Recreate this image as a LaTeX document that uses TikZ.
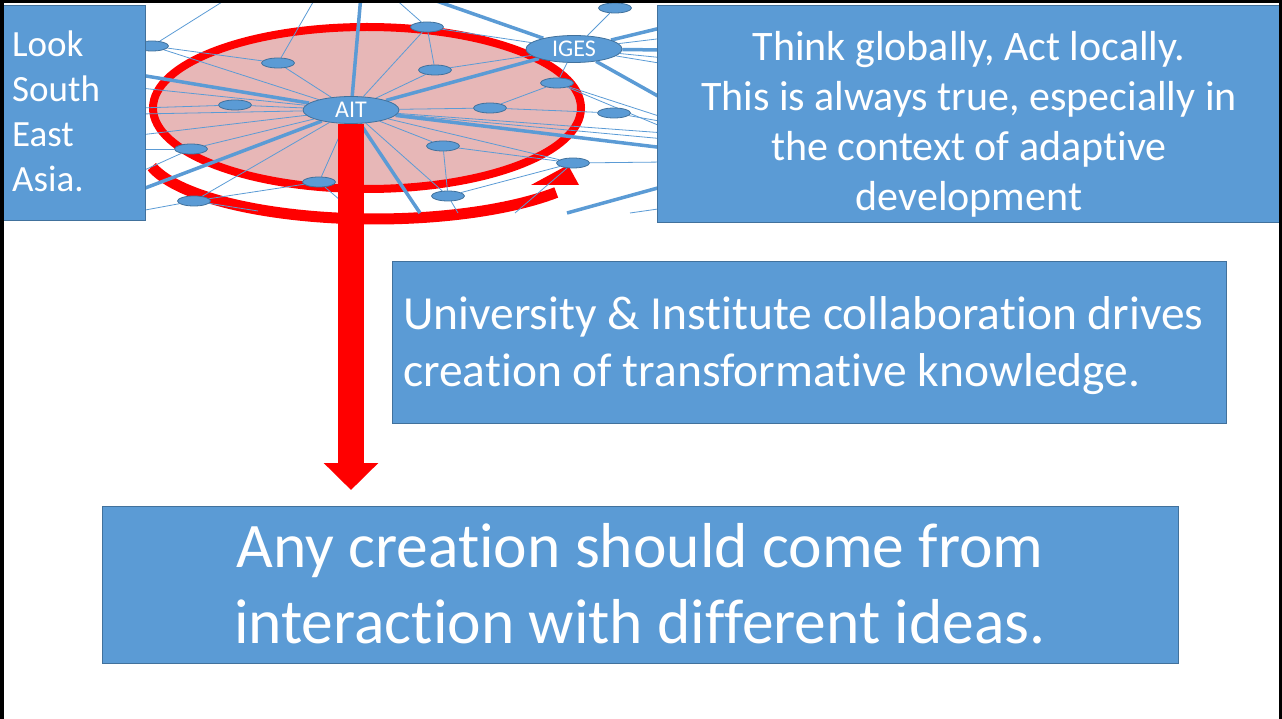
\documentclass[tikz,border=0pt]{standalone}
\usepackage{fontspec}
\setmainfont{Carlito}[Ligatures=NoCommon]
\usetikzlibrary{shapes.geometric,arrows.meta}
\definecolor{boxblue}{HTML}{5B9BD5}
\definecolor{boxedge}{HTML}{41719C}
\definecolor{pinkfill}{RGB}{231,183,183}
\definecolor{netred}{RGB}{255,0,0}
\pgfdeclarelayer{bg}
\pgfdeclarelayer{edges}
\pgfsetlayers{bg,edges,main}
\begin{document}
\begin{tikzpicture}[x=1pt,y=-1pt,
  box/.style={draw=boxedge, line width=1.3, fill=boxblue, rectangle, inner sep=0, anchor=north west},
  boxtext/.style={text=white, inner sep=0, anchor=base},
  small/.style={ellipse, fill=boxblue, draw=boxedge, line width=0.8, minimum width=33, minimum height=10, inner sep=0},
  big/.style={ellipse, fill=boxblue, draw=boxedge, line width=0.8, minimum width=96, minimum height=27, inner sep=0, text=white, font=\fontsize{24}{28}\selectfont},
  th/.style={draw=boxblue, line width=3.5},
  tn/.style={draw=boxblue, line width=0.8},
]
\useasboundingbox (0,0) rectangle (1282,719);

% background: pink disc and red circulation arrow
\begin{pgfonlayer}{bg}
\fill[pinkfill] (367,108) ellipse [x radius=214, y radius=81];
\draw[netred, line width=8] (367,108) ellipse [x radius=214, y radius=81];
\draw[netred, line width=11] plot[domain=166:38, samples=60] ({375+230*cos(\x)},{150+69*sin(\x)});
\fill[netred] (531,185) -- (568,165) -- (579,185) -- cycle;
\end{pgfonlayer}

% network nodes
\node[small] (n1) at (615,8) {};
\node[small] (n2) at (427,27) {};
\node[small] (n3) at (152,46) {};
\node[small] (n4) at (278,63) {};
\node[small] (n5) at (435,70) {};
\node[big] (IGES) at (574,49) {IGES};
\node[big] (AIT) at (351,110) {AIT};
\node[small] (n8) at (557,83) {};
\node[small] (n9) at (235,105) {};
\node[small] (n10) at (490,108) {};
\node[small] (n11) at (614,113) {};
\node[small] (n12) at (191,149) {};
\node[small] (n13) at (443,146) {};
\node[small] (n14) at (573,163) {};
\node[small] (n15) at (319,182) {};
\node[small] (n16) at (194,201) {};
\node[small] (n17) at (448,196) {};

% free ends of network lines
\coordinate (et1) at (361,-5);
\coordinate (et2) at (425,-3);
\coordinate (et3) at (230,-3);
\coordinate (et4) at (316,-3);
\coordinate (et5) at (393,-3);
\coordinate (el1) at (140,75);
\coordinate (el2) at (140,190);
\coordinate (el3) at (140,108);
\coordinate (el4) at (140,88);
\coordinate (el5) at (140,114);
\coordinate (el6) at (140,135);
\coordinate (el7) at (140,149);
\coordinate (el8) at (140,172);
\coordinate (el9) at (140,211);
\coordinate (er1) at (665,148);
\coordinate (er2) at (665,27);
\coordinate (er3) at (665,50);
\coordinate (er4) at (665,100);
\coordinate (er5) at (665,186);
\coordinate (er6) at (665,38);
\coordinate (er7) at (665,58);
\coordinate (er8) at (665,64);
\coordinate (er9) at (665,118);
\coordinate (er10) at (665,128);
\coordinate (er11) at (665,122);
\coordinate (er12) at (665,133);
\coordinate (er13) at (665,139);
\coordinate (er14) at (665,162);
\coordinate (er15) at (665,208);
\coordinate (eb1) at (420,213);
\coordinate (eb2) at (567,213);
\coordinate (eb3) at (258,211);
\coordinate (eb4) at (354,212);
\coordinate (eb5) at (515,213);
\coordinate (eb6) at (458,213);
\coordinate (eb7) at (630,213);

\begin{pgfonlayer}{edges}
\begin{scope}
\clip (146,4) rectangle (657,222);
% thick links
\draw[th] (AIT) -- (et1);
\draw[th] (AIT) -- (el1);
\draw[th] (AIT) -- (IGES);
\draw[th] (AIT) -- (er1);
\draw[th] (AIT) -- (el2);
\draw[th] (AIT) -- (eb1);
\draw[th] (et2) -- (IGES);
\draw[th] (IGES) -- (er2);
\draw[th] (IGES) -- (er3);
\draw[th] (IGES) -- (er4);
\draw[th] (eb2) -- (er5);
% thin links
\draw[tn] (n3) -- (et3);
\draw[tn] (n3) -- (n4);
\draw[tn] (n3) -- (AIT);
\draw[tn] (n4) -- (et4);
\draw[tn] (n4) -- (AIT);
\draw[tn] (n2) -- (et5);
\draw[tn] (n2) -- (n5);
\draw[tn] (n2) -- (AIT);
\draw[tn] (n2) -- (IGES);
\draw[tn] (n5) -- (AIT);
\draw[tn] (n5) -- (IGES);
\draw[tn] (n1) -- (IGES);
\draw[tn] (IGES) -- (er6);
\draw[tn] (IGES) -- (er7);
\draw[tn] (IGES) -- (er8);
\draw[tn] (n8) -- (IGES);
\draw[tn] (n8) -- (n10);
\draw[tn] (n8) -- (er9);
\draw[tn] (n8) -- (er10);
\draw[tn] (n10) -- (n11);
\draw[tn] (n10) -- (AIT);
\draw[tn] (n11) -- (er11);
\draw[tn] (AIT) -- (er12);
\draw[tn] (AIT) -- (er13);
\draw[tn] (n9) -- (AIT);
\draw[tn] (n9) -- (el3);
\draw[tn] (el4) -- (AIT);
\draw[tn] (el5) -- (AIT);
\draw[tn] (el6) -- (AIT);
\draw[tn] (n12) -- (el7);
\draw[tn] (n12) -- (AIT);
\draw[tn] (n12) -- (el8);
\draw[tn] (n16) -- (el9);
\draw[tn] (n16) -- (n15);
\draw[tn] (n16) -- (AIT);
\draw[tn] (n16) -- (eb3);
\draw[tn] (n15) -- (AIT);
\draw[tn] (n15) -- (eb4);
\draw[tn] (AIT) -- (n13);
\draw[tn] (AIT) -- (n14);
\draw[tn] (AIT) -- (n17);
\draw[tn] (n13) -- (n17);
\draw[tn] (n13) -- (n14);
\draw[tn] (n17) -- (n14);
\draw[tn] (n14) -- (er14);
\draw[tn] (n14) -- (eb5);
\draw[tn] (n17) -- (eb6);
\draw[tn] (eb7) -- (er15);
\end{scope}
\end{pgfonlayer}

% big downward red arrow
\coordinate (arrowtip) at (351,490);
\draw[netred, line width=26, -{Triangle[length=27pt, width=53pt]}] (AIT.south) -- (arrowtip);

% text boxes
\node[box, minimum width=142, minimum height=215] (asia) at (3,5) {};
\node[box, minimum width=623, minimum height=217] (think) at (657,5) {};
\node[box, minimum width=834, minimum height=162] (univ) at (392,261) {};
\node[box, minimum width=1076, minimum height=157] (any) at (102,506) {};

\node[boxtext, anchor=base west, font=\fontsize{37}{45}\selectfont] (asiat) at (12,57)
  {\begin{tabular}[t]{@{}l@{}}Look\\South\\East\\Asia.\end{tabular}};
\node[boxtext, font=\fontsize{42}{50}\selectfont] (thinkt) at (969,61)
  {\begin{tabular}[t]{@{}c@{}}Think globally, Act locally.\\This is always true, especially in\\the context of adaptive\\development\end{tabular}};
\node[boxtext, anchor=base west, font=\fontsize{47.5}{57}\selectfont] (univt) at (403,330)
  {\begin{tabular}[t]{@{}l@{}}University \& Institute collaboration drives\\creation of transformative knowledge.\end{tabular}};
\node[boxtext, font=\fontsize{63.5}{76}\selectfont] (anyt) at (640,567)
  {\begin{tabular}[t]{@{}c@{}}Any creation should come from\\interaction with different ideas.\end{tabular}};

% page frame
\draw[black, line width=3.5] (1.75,725) -- (1.75,1.75) -- (1280.25,1.75) -- (1280.25,725);
\end{tikzpicture}
\end{document}
